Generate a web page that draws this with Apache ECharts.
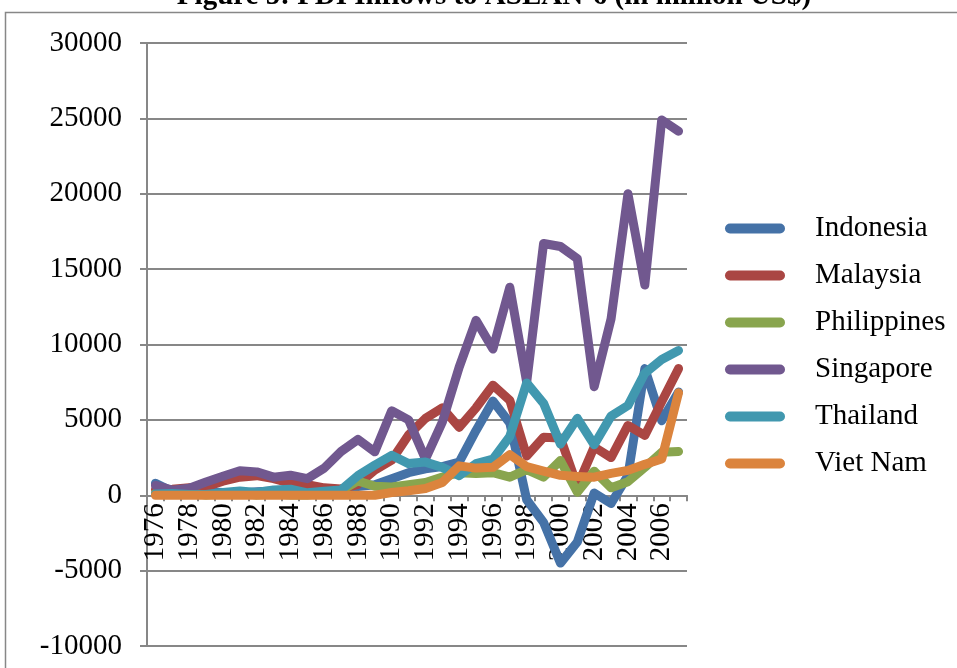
<!DOCTYPE html>
<html>
<head>
<meta charset="utf-8">
<script src="https://cdn.jsdelivr.net/npm/echarts@6/dist/echarts.min.js"></script>
<style>
  html, body { margin: 0; padding: 0; background: #fff; }
  #chart { width: 957px; height: 668px; }
</style>
</head>
<body>
<div id="chart"></div>
<script>
// years on the category axis
const years = [];
for (let y = 1976; y <= 2007; y++) years.push(String(y));

// FDI inflows, million US$
const indonesia = [800, 240, 280, 230, 180, 130, 230, 290, 220, 310, 260, 380, 580, 700, 1100, 1500,
  1750, 1900, 2200, 4300, 6250, 4800, -300, -1800, -4500, -3100, 150, -550, 1300, 8400, 4950, 6850];
const malaysia = [380, 400, 500, 570, 930, 1200, 1300, 1100, 800, 700, 490, 420, 720, 1670, 2330, 4000,
  5100, 5800, 4500, 5800, 7300, 6300, 2600, 3850, 3800, 600, 3200, 2500, 4630, 3970, 6200, 8400];
const philippines = [130, 210, 160, 10, 110, 170, 20, 100, 10, 10, 130, 310, 950, 600, 550, 700,
  850, 1200, 1500, 1450, 1500, 1200, 1700, 1200, 2300, 200, 1600, 500, 900, 1850, 2850, 2900];
const singapore = [650, 340, 470, 880, 1260, 1620, 1550, 1200, 1330, 1100, 1800, 2900, 3700, 2880, 5600, 5000,
  2400, 4850, 8500, 11600, 9700, 13800, 7500, 16700, 16500, 15700, 7200, 11700, 20000, 13950, 24900, 24150];
const thailand = [80, 110, 50, 55, 190, 290, 190, 350, 400, 160, 260, 350, 1300, 2000, 2650, 2100,
  2200, 1850, 1300, 2100, 2400, 3900, 7450, 6100, 3400, 5100, 3350, 5250, 5950, 8100, 9000, 9600];
const vietnam = [0, 0, 0, 0, 0, 0, 0, 0, 0, 0, 0, 0, 0, 0, 180, 300,
  450, 850, 1950, 1800, 1850, 2700, 1900, 1600, 1320, 1250, 1200, 1450, 1650, 2050, 2400, 6800];

const seriesNames = ['Indonesia', 'Malaysia', 'Philippines', 'Singapore', 'Thailand', 'Viet Nam'];
const seriesData = [indonesia, malaysia, philippines, singapore, thailand, vietnam];
const colors = ['#4572A7', '#AA4643', '#89A54E', '#71588F', '#4198AF', '#DB843D'];

const yMin = -10000;
const yMax = 30000;

const gridColor = '#878787';
const serif = 'Liberation Serif';

// plot box in pixels
const gridTop = 43;
const gridBottom = 22;
const plotH = 668 - gridTop - gridBottom;
// lift the category axis from the bottom edge up to the zero line
const zeroOffset = -plotH * (0 - yMin) / (yMax - yMin);

const chart = echarts.init(document.getElementById('chart'));

const option = {
  animation: false,
  color: colors,
  title: {
    text: 'Figure 5: FDI Inflows to ASEAN-6 (in million US$)',
    left: 489,
    textAlign: 'center',
    top: -23,
    textStyle: { fontFamily: serif, fontSize: 29, fontWeight: 'bold', color: '#000' }
  },
  graphic: [{
    type: 'rect',
    shape: { x: 5.5, y: 12.5, width: 1000, height: 700 },
    style: { fill: 'none', stroke: gridColor, lineWidth: 1.5 },
    silent: true
  }],
  legend: {
    orient: 'vertical',
    left: 725,
    top: 214,
    padding: 0,
    itemWidth: 60,
    itemHeight: 10,
    itemGap: 18,
    icon: 'path://M5,0 L55,0 A5,5 0 0 1 55,10 L5,10 A5,5 0 0 1 5,0 Z',
    textStyle: { fontFamily: serif, fontSize: 29, color: '#000', padding: [0, 0, 0, 25] },
    data: seriesNames
  },
  grid: { left: 147, right: 270, top: gridTop, bottom: gridBottom, outerBoundsMode: 'none', containLabel: false },
  xAxis: {
    type: 'category',
    data: years,
    boundaryGap: true,
    position: 'bottom',
    offset: zeroOffset,
    axisLine: { onZero: false, lineStyle: { color: gridColor, width: 2 } },
    axisTick: { show: true, interval: 0, length: 6, lineStyle: { color: gridColor, width: 2 } },
    axisLabel: { interval: 1, rotate: 90, margin: 8, fontFamily: serif, fontSize: 29, color: '#000' },
    splitLine: { show: false }
  },
  yAxis: {
    type: 'value',
    min: yMin,
    max: yMax,
    interval: 5000,
    axisLine: { show: true, lineStyle: { color: gridColor, width: 2 } },
    axisTick: { show: true, length: 7, lineStyle: { color: gridColor, width: 2 } },
    axisLabel: { margin: 25, fontFamily: serif, fontSize: 29, color: '#000', formatter: v => String(v) },
    splitLine: { show: true, lineStyle: { color: gridColor, width: 2 } }
  },
  series: seriesNames.map((name, i) => ({
    name: name,
    type: 'line',
    data: seriesData[i],
    showSymbol: false,
    symbol: 'none',
    lineStyle: { width: 9, color: colors[i], cap: 'round', join: 'round' },
    itemStyle: { color: colors[i] }
  }))
};

chart.setOption(option);
</script>
</body>
</html>
